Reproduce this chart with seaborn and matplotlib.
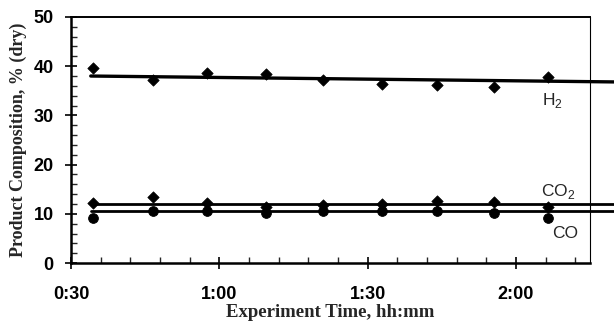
import numpy as np
import pandas as pd
import matplotlib
matplotlib.use("Agg")
import matplotlib.pyplot as plt
from matplotlib.ticker import MultipleLocator, FuncFormatter
import seaborn as sns

# sample times, minutes since start
time_min = [34.5, 46.5, 57.5, 69.5, 81, 93, 104, 115.5, 126.5]
h2 = [39.7, 37.2, 38.6, 38.4, 37.2, 36.3, 36.2, 35.8, 37.7]
co2 = [12.3, 13.5, 12.3, 11.4, 11.8, 12.0, 12.7, 12.5, 11.4]
co = [9.1, 10.6, 10.6, 10.1, 10.5, 10.6, 10.6, 10.2, 9.1]

# trend lines (start / end)
fit_time = [34.0, 140.0]
h2_fit = [38.0, 36.8]
co2_fit = [12.0, 12.0]
co_fit = [10.6, 10.6]

sns.set_style("ticks")
plt.rcParams["font.family"] = ["Liberation Sans", "DejaVu Sans"]
plt.rcParams["mathtext.fontset"] = "custom"
plt.rcParams["mathtext.rm"] = "Liberation Sans"

fig = plt.figure(figsize=(6.14, 3.26), dpi=100)
ax = fig.add_axes([0.1156, 0.193, 0.8453, 0.755])

# trend lines, run past the right frame like the original
for yy, lw in [(h2_fit, 2.4), (co2_fit, 2.0), (co_fit, 2.0)]:
    sns.lineplot(x=fit_time, y=yy, ax=ax, color="black", lw=lw, clip_on=False)

sns.scatterplot(x=time_min, y=h2, ax=ax, marker="D", s=34, color="black", edgecolor="black", zorder=3)
sns.scatterplot(x=time_min, y=co2, ax=ax, marker="D", s=34, color="black", edgecolor="black", zorder=3)
sns.scatterplot(x=time_min, y=co, ax=ax, marker="o", s=50, color="black", edgecolor="black", zorder=3)

ax.set_xlim(30, 135)
ax.set_ylim(0, 50)
ax.xaxis.set_major_locator(MultipleLocator(30))
ax.xaxis.set_minor_locator(MultipleLocator(6))
ax.yaxis.set_major_locator(MultipleLocator(10))
ax.yaxis.set_minor_locator(MultipleLocator(2))
ax.xaxis.set_major_formatter(FuncFormatter(lambda v, p: f"{int(v) // 60}:{int(v) % 60:02d}"))

ax.tick_params(which="major", direction="inout", length=9, width=1.2, colors="black",
               labelsize=13)
ax.tick_params(which="minor", direction="in", length=4, width=1.0)
ax.tick_params(axis="x", which="major", pad=12)
ax.tick_params(axis="y", which="major", pad=8)
for lab in ax.get_xticklabels() + ax.get_yticklabels():
    lab.set_fontweight("bold")

for side, w in [("left", 1.8), ("bottom", 1.8), ("top", 1.4), ("right", 0.8)]:
    ax.spines[side].set_visible(True)
    ax.spines[side].set_linewidth(w)
    ax.spines[side].set_color("black")

serif = ["Liberation Serif", "DejaVu Serif"]
ax.set_xlabel("Experiment Time, hh:mm", family=serif, fontweight="bold", fontsize=13.5, labelpad=1)
ax.set_ylabel("Product Composition, % (dry)", family=serif, fontweight="bold", fontsize=13, labelpad=5)

ax.text(127.5, 33.0, r"H$_2$", fontsize=12.5, ha="center", va="center")
ax.text(128.5, 14.5, r"CO$_2$", fontsize=12.5, ha="center", va="center")
ax.text(130.0, 6.0, "CO", fontsize=12.5, ha="center", va="center")

fig.savefig("out.png", dpi=100)
